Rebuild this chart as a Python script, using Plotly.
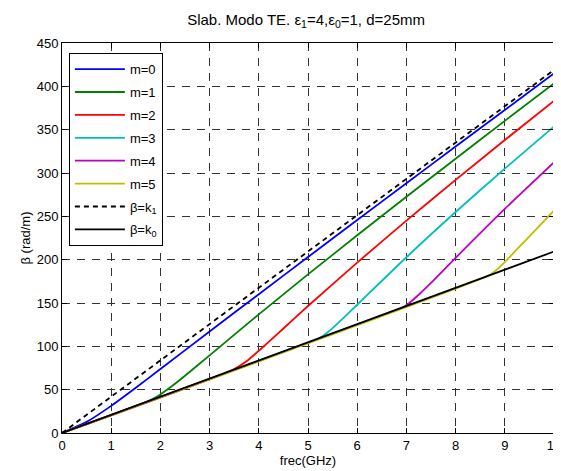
import plotly.graph_objects as go

# frequency axis (GHz) for the light lines
freq = [0, 1, 2, 3, 4, 5, 6, 7, 8, 9, 10]
beta_k0 = [0, 20.9, 41.9, 62.8, 83.8, 104.7, 125.7, 146.6, 167.6, 188.5, 209.4]
beta_k1 = [0, 41.9, 83.8, 125.7, 167.6, 209.4, 251.3, 293.2, 335.1, 377.0, 418.9]

# TE modes (below cut-off they sit on beta=k0)
f_m0 = [0, 0.5, 1, 1.5, 2, 3, 4, 5, 6, 7, 8, 9, 10]
b_m0 = [0, 12.8, 31.3, 52.2, 73.8, 117.1, 160.2, 203.0, 245.7, 288.2, 330.5, 372.8, 415.0]
f_m1 = [0, 1.73, 1.85, 2, 2.25, 2.5, 3, 4, 5, 6, 7, 8, 9, 10]
b_m1 = [0, 36.3, 39.4, 44.5, 54.7, 66.0, 89.6, 136.9, 183.0, 228.1, 272.6, 316.5, 360.1, 403.4]
f_m2 = [0, 3.46, 3.75, 4, 4.5, 5, 6, 7, 8, 9, 10]
b_m2 = [0, 72.6, 82.8, 94.9, 120.6, 146.5, 196.6, 245.0, 292.1, 338.0, 383.2]
f_m3 = [0, 5.2, 5.3, 5.4, 5.5, 5.75, 6, 7, 8, 9, 10]
b_m3 = [0, 108.8, 112.0, 116.3, 121.1, 134.3, 148.0, 202.8, 255.0, 305.1, 353.6]
f_m4 = [0, 6.93, 7, 7.25, 7.5, 8, 9, 10]
b_m4 = [0, 145.1, 147.3, 159.5, 173.1, 202.1, 258.6, 312.4]
f_m5 = [0, 8.66, 8.8, 9, 9.5, 10]
b_m5 = [0, 181.4, 186.6, 197.2, 227.0, 256.6]

modes = [
    ('m=0', f_m0, b_m0, '#0000ff'),
    ('m=1', f_m1, b_m1, '#008000'),
    ('m=2', f_m2, b_m2, '#ff0000'),
    ('m=3', f_m3, b_m3, '#00bfbf'),
    ('m=4', f_m4, b_m4, '#bf00bf'),
    ('m=5', f_m5, b_m5, '#bfbf00'),
]

fig = go.Figure()
for name, f, b, col in modes:
    fig.add_trace(go.Scatter(x=f, y=b, mode='lines', name=name, legendgroup=name,
                             line=dict(color=col, width=1.8, shape='spline', smoothing=0.6)))

fig.add_trace(go.Scatter(x=freq, y=beta_k1, mode='lines', name='β=k<sub>1</sub>',
                         legendgroup='k1',
                         line=dict(color='black', width=1.8, dash='5px,4px')))
fig.add_trace(go.Scatter(x=freq, y=beta_k0, mode='lines', name='β=k<sub>0</sub>',
                         legendgroup='k0',
                         line=dict(color='black', width=1.8)))

axis_style = dict(
    showline=True, linecolor='black', linewidth=1, mirror='ticks',
    ticks='inside', ticklen=5, tickcolor='black', automargin=False,
    ticklabeloverflow='allow',
    showgrid=True, gridcolor='#333333', gridwidth=1, griddash='8px,7px',
    zeroline=False, tickfont=dict(size=13, color='black'),
)

fig.update_xaxes(range=[0, 10], dtick=1, title=dict(text='frec(GHz)', standoff=2,
                 font=dict(size=13, color='black')), **axis_style)
fig.update_yaxes(range=[0, 450], dtick=50, title=dict(text='β (rad/m)', standoff=3,
                 font=dict(size=13, color='black')), **axis_style)

# the page adds an 8px body margin, so the figure is sized to fit the window
fig.update_layout(
    width=553, height=463,
    margin=dict(l=54, r=7, t=35, b=38),
    paper_bgcolor='white', plot_bgcolor='white',
    font=dict(family='Liberation Sans, Arial, sans-serif', size=13, color='black'),
    title=dict(text='Slab. Modo TE. ε<sub>1</sub>=4,ε<sub>0</sub>=1, d=25mm',
               x=0.539, xanchor='center', y=0.975, yanchor='middle',
               font=dict(size=15, color='black')),
    legend=dict(x=0.014, y=0.974, xanchor='left', yanchor='top',
                bgcolor='white', bordercolor='black', borderwidth=1,
                itemwidth=50, tracegroupgap=3,
                font=dict(size=13, color='black')),
    showlegend=True,
)

fig.write_html('out.html')
